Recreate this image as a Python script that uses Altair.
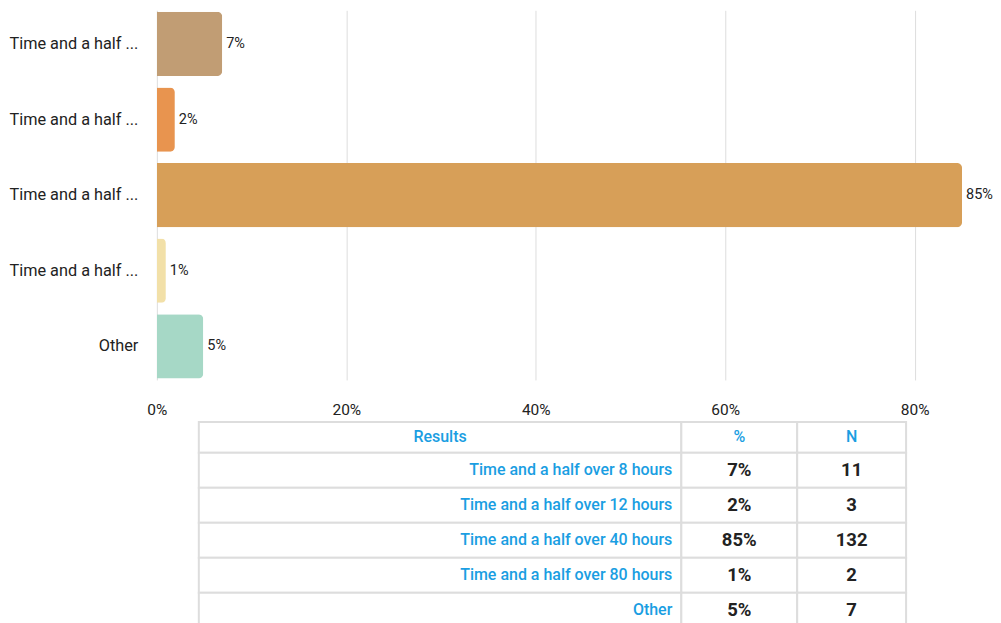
import altair as alt
import pandas as pd

# ---- data ----
categories = [
    "Time and a half over 8 hours",
    "Time and a half over 12 hours",
    "Time and a half over 40 hours",
    "Time and a half over 80 hours",
    "Other",
]
percents = [6.9, 1.9, 85.0, 0.95, 4.9]
pct_labels = ["7%", "2%", "85%", "1%", "5%"]
counts = [11, 3, 132, 2, 7]
bar_colors = ["#C19D74", "#E8944F", "#D79F58", "#F2E0A8", "#A6D8C6"]
x_ticks = [0, 20, 40, 60, 80]
table_headers = ["Results", "%", "N"]

# ---- layout constants (not data) ----
FONT = "Roboto"
BLUE = "#1a9ee2"
DARK = "#222222"
GRID = "#dddddd"
PLOT_W = 808
PLOT_H = 370
X_MAX = 85.0 * 808 / 806
TABLE_COL_EDGES = [42, 525, 641, 750]
TABLE_ROW_EDGES = [0, 31, 66, 101, 136, 171, 206]
TABLE_H = 206

bars = pd.DataFrame({"cat": categories, "pct": percents, "label": pct_labels})

y_enc = alt.Y(
    "cat:N",
    sort=categories,
    title=None,
    scale=alt.Scale(paddingInner=0.15, paddingOuter=0.02),
    axis=alt.Axis(
        ticks=False,
        domain=False,
        labelFontSize=16.3,
        labelColor=DARK,
        labelFont=FONT,
        labelPadding=19,
        minExtent=149,
        maxExtent=149,
        labelLimit=200,
        labelExpr="length(datum.label) > 18 ? substring(datum.label, 0, 15) + ' ...' : datum.label",
    ),
)
x_enc = alt.X(
    "pct:Q",
    title=None,
    scale=alt.Scale(domain=[0, X_MAX], nice=False),
    axis=alt.Axis(
        values=x_ticks,
        grid=True,
        gridColor=GRID,
        gridWidth=1,
        ticks=False,
        domain=False,
        labelFlush=False,
        labelFontSize=15.5,
        labelColor=DARK,
        labelFont=FONT,
        labelPadding=23,
        labelExpr="datum.value + '%'",
    ),
)

bar_layer = alt.Chart(bars).mark_bar(cornerRadiusEnd=5).encode(
    x=x_enc,
    y=y_enc,
    color=alt.Color("cat:N", scale=alt.Scale(domain=categories, range=bar_colors), legend=None),
)
bar_text = alt.Chart(bars).mark_text(
    align="left", baseline="middle", dx=4, fontSize=14.5, font=FONT, color=DARK
).encode(x="pct:Q", y=alt.Y("cat:N", sort=categories), text="label:N")

bar_chart = alt.layer(bar_layer, bar_text).properties(width=PLOT_W, height=PLOT_H)

# ---- table ----
rows = [table_headers] + [
    [c, p, str(n)] for c, p, n in zip(categories, pct_labels, counts)
]
cells = []
for r, row in enumerate(rows):
    for c, txt in enumerate(row):
        x0, x1 = TABLE_COL_EDGES[c], TABLE_COL_EDGES[c + 1]
        y0, y1 = TABLE_ROW_EDGES[r], TABLE_ROW_EDGES[r + 1]
        if r == 0:
            role = "header"
        elif c == 0:
            role = "label"
        else:
            role = "value"
        cells.append(
            {"x": x0, "x2": x1, "y": y0, "y2": y1, "text": txt, "role": role,
             "tx": (x1 - 9) if role == "label" else (x0 + x1) / 2,
             "ty": (y0 + y1) / 2}
        )
table = pd.DataFrame(cells)

tx_scale = alt.Scale(domain=[0, PLOT_W], nice=False)
ty_scale = alt.Scale(domain=[0, TABLE_H], nice=False, reverse=True)

cell_rects = alt.Chart(table).mark_rect(fill="white", stroke=GRID, strokeWidth=2).encode(
    x=alt.X("x:Q", scale=tx_scale, axis=None),
    x2="x2:Q",
    y=alt.Y("y:Q", scale=ty_scale, axis=None),
    y2="y2:Q",
)
header_text = alt.Chart(table).transform_filter("datum.role == 'header'").mark_text(
    align="center", baseline="middle", fontSize=16, font=FONT, color=BLUE, fontWeight=500
).encode(x=alt.X("tx:Q", scale=tx_scale, axis=None), y=alt.Y("ty:Q", scale=ty_scale, axis=None), text="text:N")
label_text = alt.Chart(table).transform_filter("datum.role == 'label'").mark_text(
    align="right", baseline="middle", fontSize=16, font=FONT, color=BLUE, fontWeight=500
).encode(x=alt.X("tx:Q", scale=tx_scale, axis=None), y=alt.Y("ty:Q", scale=ty_scale, axis=None), text="text:N")
value_text = alt.Chart(table).transform_filter("datum.role == 'value'").mark_text(
    align="center", baseline="middle", fontSize=18.5, font=FONT, color=DARK, fontWeight="bold"
).encode(x=alt.X("tx:Q", scale=tx_scale, axis=None), y=alt.Y("ty:Q", scale=ty_scale, axis=None), text="text:N")

table_chart = alt.layer(cell_rects, header_text, label_text, value_text).properties(
    width=PLOT_W, height=TABLE_H
)

chart = (
    alt.vconcat(bar_chart, table_chart, spacing=2)
    .properties(padding={"left": 0, "top": 2, "right": 0, "bottom": 0})
    .configure(font=FONT)
    .configure_view(stroke=None)
)

chart.save("out.html", embed_options={"renderer": "svg", "actions": False})
